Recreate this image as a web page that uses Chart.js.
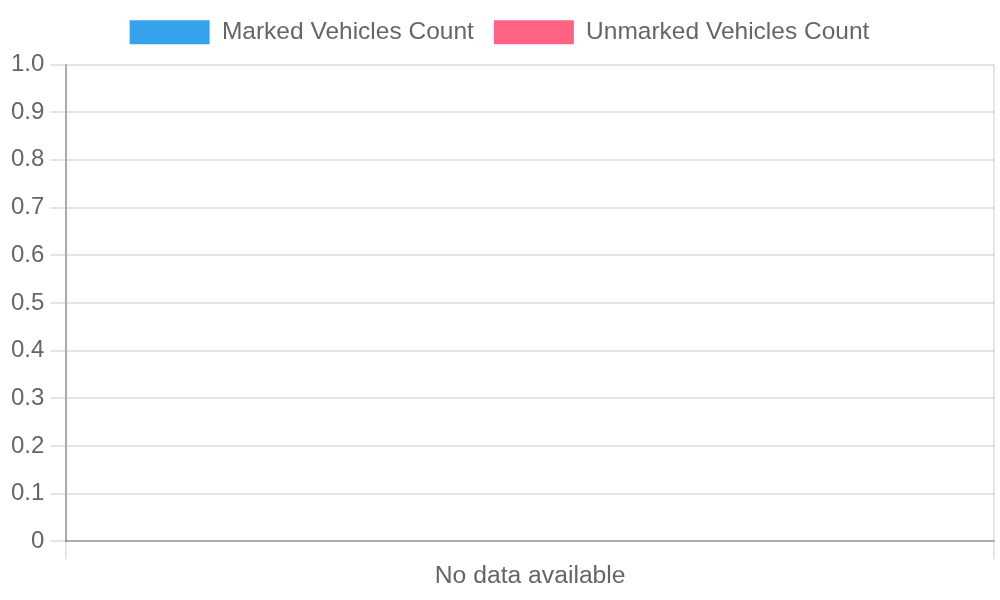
<!DOCTYPE html>
<html>
<head>
<meta charset="utf-8">
<script src="https://cdn.jsdelivr.net/npm/chart.js@4"></script>
<style>
  html, body { margin: 0; padding: 0; background: #fff; overflow: hidden; }
  #wrap { width: 1000px; height: 600px; }
</style>
</head>
<body>
<div id="wrap"><canvas id="vehicleChart"></canvas></div>
<script>
// categories and series
const categories = ['No data available'];
const markedCounts = [0];
const unmarkedCounts = [0];
const yTicks = { min: 0, max: 1, step: 0.1 };

Chart.defaults.font.family = '"Liberation Sans", Arial, sans-serif';
Chart.defaults.font.size = 24;
Chart.defaults.color = '#666';

const gridStyle = { color: 'rgba(0,0,0,0.1)', lineWidth: 2, tickLength: 16 };
const borderStyle = { width: 2, color: 'rgba(0,0,0,0.25)' };

// legend gets a little extra room underneath, like the original 2x render
const legendGap = {
    id: 'legendGap',
    beforeInit(chart) {
        const fit = chart.legend.fit;
        chart.legend.fit = function () {
            fit.call(this);
            this.height += 10;
        };
    }
};

new Chart(document.getElementById('vehicleChart'), {
    type: 'bar',
    data: {
        labels: categories,
        datasets: [
            { label: 'Marked Vehicles Count', data: markedCounts, backgroundColor: '#36A2EB' },
            { label: 'Unmarked Vehicles Count', data: unmarkedCounts, backgroundColor: '#FF6384' }
        ]
    },
    options: {
        responsive: true,
        maintainAspectRatio: false,
        devicePixelRatio: 1,
        animation: false,
        layout: { padding: { left: 5, right: 6, bottom: 7 } },
        plugins: {
            legend: {
                labels: { boxWidth: 80, boxHeight: 24, padding: 20, font: { size: 24.5 } }
            },
            tooltip: { enabled: false }
        },
        scales: {
            x: {
                grid: { ...gridStyle, tickLength: 18 },
                border: borderStyle,
                ticks: { padding: 2, font: { size: 24.7 } }
            },
            y: {
                min: yTicks.min,
                max: yTicks.max,
                grid: gridStyle,
                border: borderStyle,
                ticks: { padding: 6, stepSize: yTicks.step }
            }
        }
    },
    plugins: [legendGap]
});
</script>
</body>
</html>
